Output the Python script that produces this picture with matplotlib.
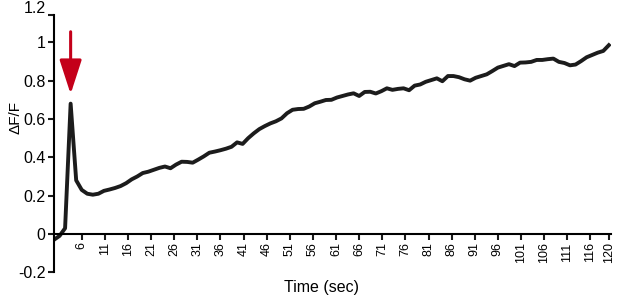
import numpy as np
import matplotlib
matplotlib.use('Agg')
import matplotlib.pyplot as plt
import matplotlib.transforms as mtransforms

plt.rcParams['font.family'] = ['Liberation Sans', 'DejaVu Sans']

# Muestras cada 1.2 s (0 .. 120 s)
time_sec = np.arange(101) * 1.2
dff = [-0.03, -0.01, 0.03, 0.68, 0.28, 0.23, 0.21, 0.205, 0.21, 0.225,
       0.232, 0.24, 0.25, 0.265, 0.285, 0.30, 0.318, 0.325, 0.335, 0.345,
       0.352, 0.343, 0.362, 0.377, 0.376, 0.372, 0.388, 0.405, 0.424, 0.43,
       0.437, 0.445, 0.455, 0.478, 0.47, 0.50, 0.525, 0.547, 0.563, 0.577,
       0.588, 0.603, 0.63, 0.648, 0.652, 0.653, 0.665, 0.682, 0.69, 0.699,
       0.70, 0.712, 0.72, 0.728, 0.734, 0.72, 0.741, 0.742, 0.733, 0.745,
       0.76, 0.752, 0.757, 0.76, 0.75, 0.774, 0.78, 0.794, 0.803, 0.812,
       0.797, 0.824, 0.824, 0.818, 0.807, 0.80, 0.815, 0.824, 0.833, 0.85,
       0.868, 0.877, 0.886, 0.876, 0.894, 0.895, 0.898, 0.908, 0.908, 0.912,
       0.915, 0.898, 0.892, 0.88, 0.884, 0.902, 0.922, 0.934, 0.946, 0.955,
       0.985]

x_ticks = list(range(6, 120, 5)) + [120]
y_ticks = [-0.2, 0, 0.2, 0.4, 0.6, 0.8, 1.0, 1.142]
y_labels = ['-0.2', '0', '0.2', '0.4', '0.6', '0.8', '1', '1.2']

# Estímulo (flecha roja)
stim_t = 3.6
stim_top, stim_tip = 1.055, 0.73

fig = plt.figure(figsize=(6.17, 2.96), dpi=100)
ax = fig.add_axes([0.0875, 0.08, 0.903, 0.869])

ax.plot(time_sec, dff, color='#1c1c1c', lw=2.8, solid_joinstyle='round')

ax.annotate('', xy=(stim_t, stim_tip), xytext=(stim_t, stim_top),
            arrowprops=dict(arrowstyle='-|>,head_length=1.05,head_width=0.34',
                            mutation_scale=20, color='#c4001a', lw=2.2,
                            shrinkA=0, shrinkB=0))

ax.set_xlim(0, 120.5)
ax.set_ylim(-0.2, 1.142)

ax.spines['top'].set_visible(False)
ax.spines['right'].set_visible(False)
ax.spines['bottom'].set_position(('data', 0))
ax.spines['left'].set_linewidth(1.5)
ax.spines['bottom'].set_linewidth(1.5)

ax.set_xticks(x_ticks)
ax.set_xticklabels([str(v) for v in x_ticks], rotation=90, fontsize=9)
ax.set_yticks(y_ticks)
ax.set_yticklabels(y_labels, fontsize=11.5)
ax.tick_params(axis='both', direction='out', length=4, width=1.5, color='#1a1a1a')
ax.tick_params(axis='x', pad=2)
ax.tick_params(axis='y', pad=2)

# la etiqueta 1.2 está algo por encima de su marca
lbl = ax.get_yticklabels()[-1]
lbl.set_transform(lbl.get_transform() + mtransforms.ScaledTranslation(0, 8 / 100, fig.dpi_scale_trans))

ax.set_xlabel('Time (sec)', fontsize=11.5)
ax.xaxis.set_label_coords(0.48, -0.03)
ax.set_ylabel('ΔF/F', fontsize=11)
ax.yaxis.set_label_coords(-0.056, 0.6)

fig.savefig('out.png', dpi=100)
